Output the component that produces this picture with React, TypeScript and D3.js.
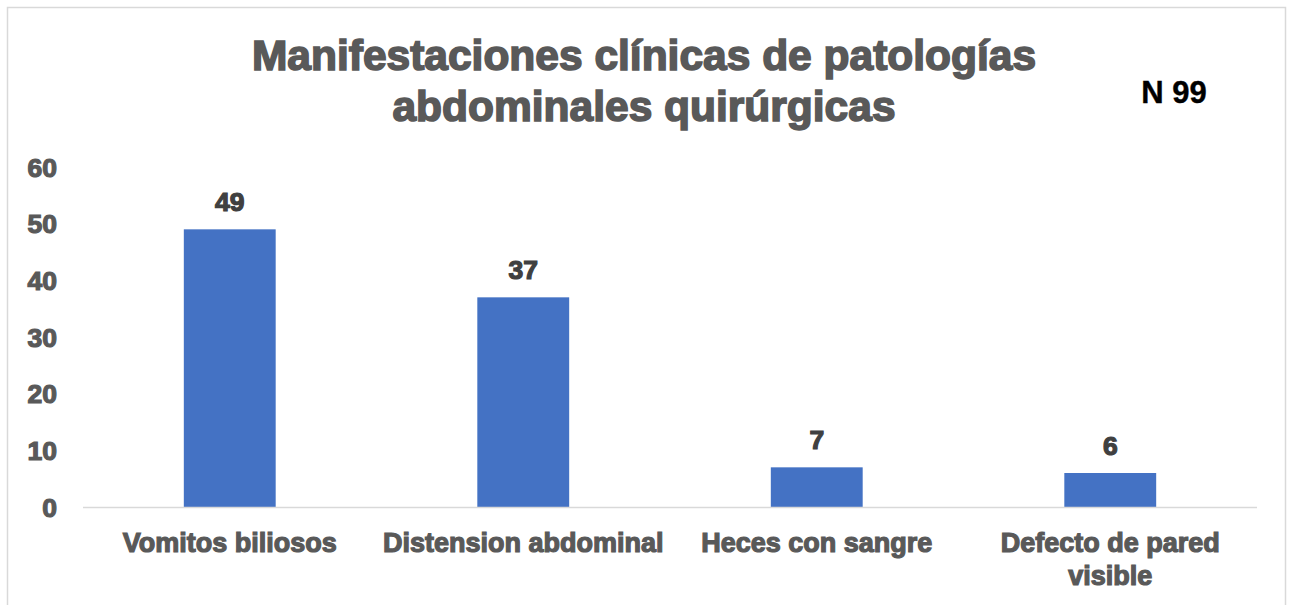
import * as d3 from 'd3'

const categories = ['Vomitos biliosos', 'Distension abdominal', 'Heces con sangre', 'Defecto de pared visible']
const labelLines = [['Vomitos biliosos'], ['Distension abdominal'], ['Heces con sangre'], ['Defecto de pared', 'visible']]
const values = [49, 37, 7, 6]
const yTicks = [0, 10, 20, 30, 40, 50, 60]
const titleLines = ['Manifestaciones clínicas de patologías', 'abdominales quirúrgicas']
const note = 'N 99'

const W = 1292
const H = 605
const FONT = '"Liberation Sans", Arial, sans-serif'
const GREY = '#595959'

export default function App() {
  const x = d3.scaleBand<string>()
    .domain(categories)
    .range([83, 1257])
    .paddingInner(0.687)
    .paddingOuter(0.3435)

  const y = d3.scaleLinear().domain([0, 60]).range([507, 167])

  return (
    <div style={{ position: 'absolute', left: 0, top: 0 }}>
      <svg width={W} height={H} style={{ display: 'block', background: '#fff' }} fontFamily={FONT}>
        {/* chart frame */}
        <rect x={7.5} y={7.5} width={1278} height={610} fill="white" stroke="#d9d9d9" strokeWidth={1.5} />

        {/* title */}
        {titleLines.map((t, i) => (
          <text
            key={t}
            x={644}
            y={70 + i * 51}
            textAnchor="middle"
            fontSize={42.5}
            fontWeight="bold"
            fill={GREY}
            stroke={GREY}
            strokeWidth={1.6}
          >
            {t}
          </text>
        ))}

        <text x={1174} y={103} textAnchor="middle" fontSize={31} fontWeight="bold" fill="#000" stroke="#000" strokeWidth={0.4}>
          {note}
        </text>

        {/* y axis labels */}
        {yTicks.map(t => (
          <text
            key={t}
            x={57}
            y={y(t) + 9.5}
            textAnchor="end"
            fontSize={26.5}
            fontWeight="bold"
            fill={GREY}
            stroke={GREY}
            strokeWidth={1.2}
          >
            {t}
          </text>
        ))}

        {/* bars */}
        {categories.map((c, i) => (
          <rect
            key={c}
            x={x(c)}
            y={y(values[i])}
            width={x.bandwidth()}
            height={y(0) - y(values[i])}
            fill="#4472C4"
          />
        ))}

        {/* baseline */}
        <line x1={83} x2={1257} y1={y(0) + 0.5} y2={y(0) + 0.5} stroke="#d9d9d9" strokeWidth={1.5} />

        {/* data labels */}
        {categories.map((c, i) => (
          <text
            key={c}
            x={(x(c) ?? 0) + x.bandwidth() / 2}
            y={y(values[i]) - 18}
            textAnchor="middle"
            fontSize={26.5}
            fontWeight="bold"
            fill="#404040"
            stroke="#404040"
            strokeWidth={1.2}
          >
            {values[i]}
          </text>
        ))}

        {/* category labels */}
        {categories.map((c, i) => (
          <text
            key={c}
            x={(x(c) ?? 0) + x.bandwidth() / 2}
            y={552}
            textAnchor="middle"
            fontSize={27}
            fontWeight="bold"
            fill={GREY}
            stroke={GREY}
            strokeWidth={1.2}
          >
            {labelLines[i].map((l, j) => (
              <tspan key={l} x={(x(c) ?? 0) + x.bandwidth() / 2} dy={j === 0 ? 0 : 33}>{l}</tspan>
            ))}
          </text>
        ))}
      </svg>
    </div>
  )
}
